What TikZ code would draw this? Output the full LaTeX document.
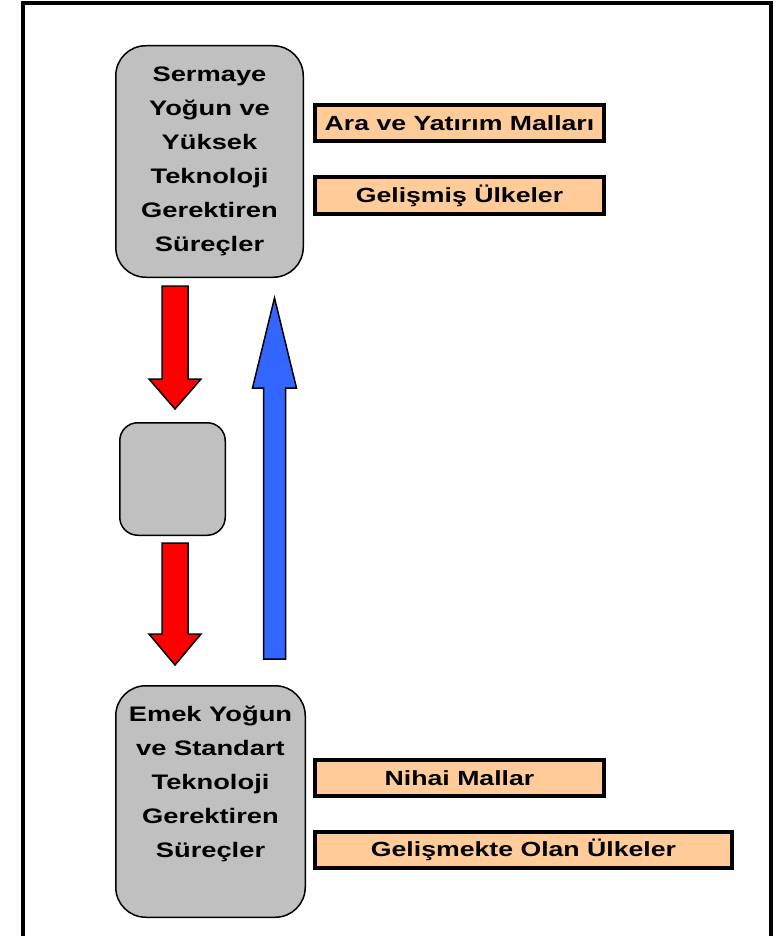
\documentclass[tikz,border=0pt]{standalone}
\usepackage{fontspec}
\setmainfont{Liberation Sans}[FakeStretch=1.3]
\usetikzlibrary{calc}

\definecolor{boxgray}{RGB}{192,192,192}
\definecolor{peach}{RGB}{255,204,153}
\definecolor{flowblue}{RGB}{51,102,255}

\tikzset{
  process/.style={draw=black, line width=1.5pt, fill=boxgray, rounded corners=30pt, align=center, inner sep=0pt, font=\fontsize{21}{34}\selectfont\bfseries},
  proctext/.style={align=center, inner sep=0pt, font=\fontsize{21}{34}\selectfont\bfseries},
  tag/.style={draw=black, line width=4pt, fill=peach, minimum height=36pt, inner sep=0pt, font=\fontsize{20.5}{24}\selectfont\bfseries},
  redflow/.style={draw=black, line width=1.5pt, fill=red},
  blueflow/.style={draw=black, line width=1.5pt, fill=flowblue}
}

% block arrow: style, tail, tip, shaft half width, head half width, head length
\newcommand{\blockarrow}[6]{%
  \coordinate (hb) at ($(#3)!#6!(#2)$);
  \draw[#1] ($(#2)!#4!90:(#3)$) -- ($(hb)!#4!90:(#3)$) -- ($(hb)!#5!90:(#3)$) -- (#3)
    -- ($(hb)!#5!-90:(#3)$) -- ($(hb)!#4!-90:(#3)$) -- ($(#2)!#4!-90:(#3)$) -- cycle;
}

\begin{document}
\begin{tikzpicture}[x=1pt,y=-1pt]
		\useasboundingbox (0,0) rectangle (779,936);

		%outline
		\draw[line width=4pt] (23,940) -- (23,3) -- (771,3) -- (771,940);

		%processes
		\node[process, minimum width=187.5pt, minimum height=231.5pt] (high) at (209.5,161.5) {Sermaye\\Yoğun ve\\Yüksek\\Teknoloji\\Gerektiren\\Süreçler};
		\node[process, rounded corners=18pt, minimum width=105.5pt, minimum height=112.5pt] (mid) at (172.5,479) {};
		\node[process, minimum width=189.5pt, minimum height=231.5pt] (low) at (210.5,801.5) {};
		\node[proctext] (lowtext) at ($(low.center)+(0,-17.5)$) {Emek Yoğun\\ve Standart\\Teknoloji\\Gerektiren\\Süreçler};

		%goods and countries
		\node[tag, minimum width=289pt] (goodsa) at (459.5,123) {Ara ve Yatırım Malları};
		\node[tag, minimum width=289pt, minimum height=37pt] (landa) at (459.5,195.5) {Gelişmiş Ülkeler};
		\node[tag, minimum width=289pt] (goodsb) at (459.5,778) {Nihai Mallar};
		\node[tag, minimum width=417pt] (landb) at (523.5,850) {Gelişmekte Olan Ülkeler};

		%arrows
		\coordinate (ra) at (175,286);
		\coordinate (rb) at (175,409);
		\coordinate (rc) at (175,543);
		\coordinate (rd) at (175,665);
		\coordinate (ba) at (274.5,659);
		\coordinate (bb) at (274.5,298);
		\blockarrow{redflow}{ra}{rb}{13pt}{26pt}{30pt}
		\blockarrow{redflow}{rc}{rd}{13pt}{26pt}{31pt}
		\blockarrow{blueflow}{ba}{bb}{11pt}{22pt}{90pt}

		\end{tikzpicture}
\end{document}
